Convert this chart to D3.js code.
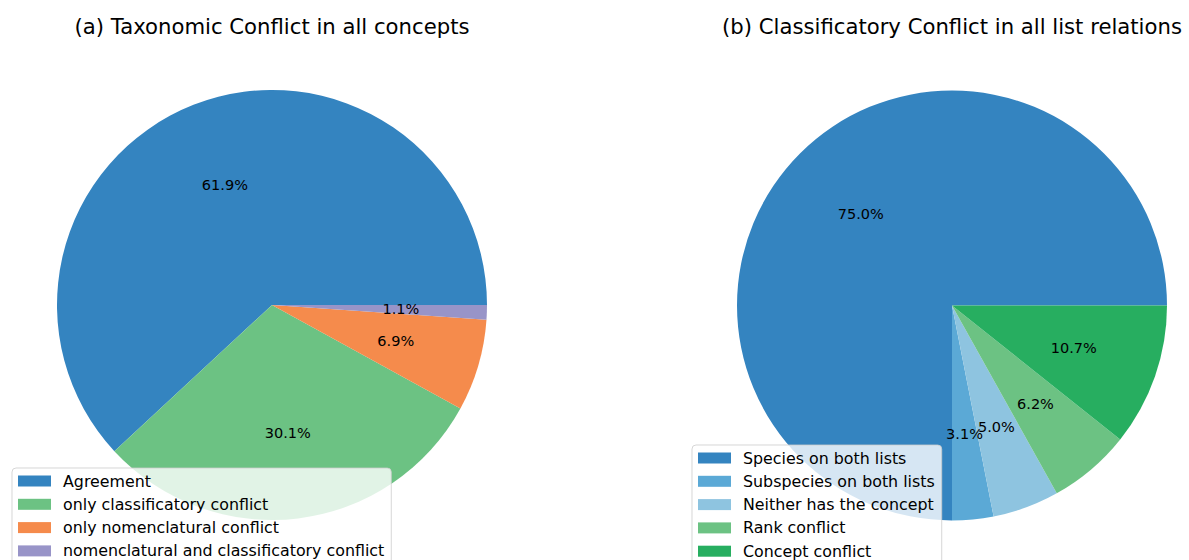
<!DOCTYPE html>
<html>
<head>
<meta charset="utf-8">
<script src="https://cdn.jsdelivr.net/npm/d3@7"></script>
<style>
  body { margin: 0; background: #fff; }
  text { font-family: "DejaVu Sans", sans-serif; }
</style>
</head>
<body>
<div id="chart"></div>
<script>
//chart data
var leftTitle = "(a) Taxonomic Conflict in all concepts";
var leftLabels = ["Agreement", "only classificatory conflict", "only nomenclatural conflict", "nomenclatural and classificatory conflict"];
var leftValues = [61.9, 30.1, 6.9, 1.1];
var leftColors = ["#3484c0", "#6cc283", "#f58b4c", "#9894c8"];

var rightTitle = "(b) Classificatory Conflict in all list relations";
var rightLabels = ["Species on both lists", "Subspecies on both lists", "Neither has the concept", "Rank conflict", "Concept conflict"];
var rightValues = [75.0, 3.1, 5.0, 6.2, 10.7];
var rightColors = ["#3484c0", "#5ba9d6", "#8ec4e0", "#6cc283", "#27ae60"];

//SVG size
var width = 1189,
    height = 560;

var svg = d3.select("#chart").append("svg")
    .attr("width", width)
    .attr("height", height);

var radius = 215;
var fmt = d3.format(".1f");

//matplotlib style: start at 3 o'clock and go counterclockwise
var pie = d3.pie()
    .sort(null)
    .value(function (d) { return d.value; })
    .startAngle(Math.PI / 2)
    .endAngle(Math.PI / 2 - 2 * Math.PI);

var arc = d3.arc().innerRadius(0).outerRadius(radius);
var labelArc = d3.arc().innerRadius(radius * 0.6).outerRadius(radius * 0.6);

function drawPanel(cx, cy, title, labels, values, colors, legendX, legendY) {
    var data = labels.map(function (l, i) { return { label: l, value: values[i], color: colors[i] }; });
    var total = d3.sum(values);

    //title
    svg.append("text")
        .attr("x", cx)
        .attr("y", 34)
        .attr("text-anchor", "middle")
        .style("font-size", "21.2px")
        .style("fill", "#000")
        .text(title);

    var g = svg.append("g")
        .attr("transform", "translate(" + cx + "," + cy + ")");

    var arcs = pie(data);

    g.selectAll(".slice")
        .data(arcs)
        .enter().append("path")
        .attr("class", "slice")
        .attr("d", arc)
        .style("fill", function (d) { return d.data.color; });

    g.selectAll(".pct")
        .data(arcs)
        .enter().append("text")
        .attr("class", "pct")
        .attr("transform", function (d) { return "translate(" + labelArc.centroid(d) + ")"; })
        .attr("text-anchor", "middle")
        .attr("dominant-baseline", "central")
        .style("font-size", "14.5px")
        .style("fill", "#000")
        .text(function (d) { return fmt(d.data.value / total * 100) + "%"; });

    //legend
    var rowH = 23.3,
        pad = 6,
        patchW = 33,
        patchH = 11;

    var lg = svg.append("g")
        .attr("transform", "translate(" + legendX + "," + legendY + ")");

    var frame = lg.append("rect")
        .attr("x", 0)
        .attr("y", 0)
        .attr("rx", 4)
        .attr("ry", 4)
        .attr("height", rowH * data.length + 14)
        .style("fill", "#fff")
        .style("fill-opacity", 0.8)
        .style("stroke", "#cccccc")
        .style("stroke-opacity", 0.8)
        .style("stroke-width", 1);

    var rows = lg.selectAll(".row")
        .data(data)
        .enter().append("g")
        .attr("class", "row")
        .attr("transform", function (d, i) { return "translate(0," + (13 + i * rowH) + ")"; });

    rows.append("rect")
        .attr("x", pad)
        .attr("y", -patchH / 2)
        .attr("width", patchW)
        .attr("height", patchH)
        .style("fill", function (d) { return d.color; });

    var maxW = 0;
    rows.append("text")
        .attr("x", pad + patchW + 12)
        .attr("y", 0)
        .attr("dominant-baseline", "central")
        .style("font-size", "15.85px")
        .style("fill", "#000")
        .text(function (d) { return d.label; })
        .each(function () { maxW = Math.max(maxW, this.getComputedTextLength()); });

    frame.attr("width", pad + patchW + 12 + maxW + 7);
}

drawPanel(272, 305, leftTitle, leftLabels, leftValues, leftColors, 12, 468);
drawPanel(952, 305.5, rightTitle, rightLabels, rightValues, rightColors, 692, 445);
</script>
</body>
</html>
